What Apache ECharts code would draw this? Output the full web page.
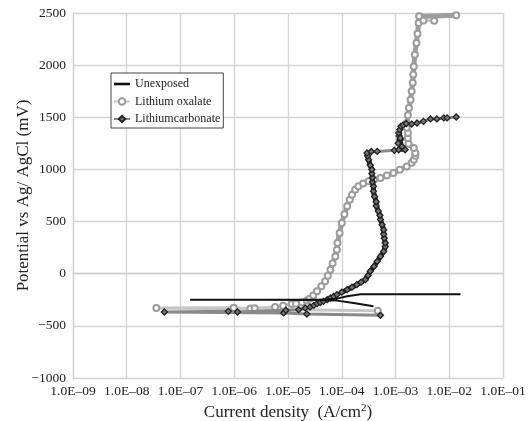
<!DOCTYPE html>
<html>
<head>
<meta charset="utf-8">
<script src="https://cdn.jsdelivr.net/npm/echarts@6/dist/echarts.min.js"></script>
<style>
html,body{margin:0;padding:0;background:#fff;}
#chart{width:529px;height:421px;}
</style>
</head>
<body>
<div id="chart"></div>
<script>
// Current density (A/cm2), potential (mV)
const unexposed = [
  [3.89e-4,-313],[1.66e-4,-280],[8.13e-5,-258],[3.98e-5,-251],[3.16e-6,-250],[1.51e-7,-250],
  [3.16e-6,-249],[3.98e-5,-249],[8.13e-5,-239],[1.26e-4,-217],[2.24e-4,-196],[1.0e-3,-196],
  [3.16e-3,-197],[1.62e-2,-198]
];
const lithiumOxalate = [
  [4.68e-4,-354],[3.55e-8,-328],[9.77e-7,-326],[2.0e-6,-333],[2.40e-6,-332],[5.75e-6,-319],
  [8.13e-6,-306],[1.17e-5,-290],[1.41e-5,-287],[1.82e-5,-275],[2.24e-5,-258],
  [2.51e-5,-240],[2.95e-5,-210],[3.47e-5,-169],[4.17e-5,-120],[4.90e-5,-73],[5.50e-5,-20],
  [6.17e-5,39],[6.76e-5,100],[7.59e-5,166],[8.13e-5,230],[8.32e-5,295],[9.12e-5,390],
  [1.0e-4,487],[1.12e-4,570],[1.26e-4,646],[1.41e-4,710],[1.55e-4,758],[1.78e-4,805],
  [2.04e-4,838],[2.51e-4,865],[3.16e-4,886],[3.98e-4,903],[5.25e-4,918],[6.92e-4,942],
  [9.12e-4,966],[1.20e-3,998],[1.62e-3,1029],[2.0e-3,1065],[2.19e-3,1093],[2.34e-3,1130],
  [2.34e-3,1158],[2.19e-3,1206],[1.74e-3,1246],[1.70e-3,1300],[1.70e-3,1349],[1.62e-3,1400],
  [1.62e-3,1445],[1.70e-3,1520],[1.78e-3,1590],[1.91e-3,1669],[2.0e-3,1750],[2.09e-3,1830],
  [2.14e-3,1910],[2.19e-3,1988],[2.29e-3,2100],[2.45e-3,2212],[2.57e-3,2300],[2.69e-3,2404],
  [2.82e-3,2467],[1.35e-2,2478],[2.75e-3,2470],[3.31e-3,2429],[5.25e-3,2426]
];
const lithiumCarbonate = [
  [5.25e-4,-399],[2.24e-5,-386],[8.32e-6,-376],[5.01e-8,-367],[7.76e-7,-361],[1.15e-6,-367],
  [9.12e-6,-351],[1.58e-5,-345],
  [2.09e-5,-328],[2.57e-5,-319],[3.02e-5,-303],[3.47e-5,-287],[3.98e-5,-276],[4.57e-5,-265],
  [5.37e-5,-249],[6.17e-5,-233],[7.08e-5,-217],[8.13e-5,-201],[1.0e-4,-177],[1.26e-4,-153],
  [1.55e-4,-129],[1.91e-4,-105],[2.29e-4,-81],[2.75e-4,-57],[3.09e-4,-17],[3.39e-4,23],
  [3.98e-4,70],[4.57e-4,118],[5.25e-4,166],[6.03e-4,214],[6.46e-4,260],[6.46e-4,295],
  [6.17e-4,340],[6.03e-4,380],[6.03e-4,422],[5.62e-4,470],[5.25e-4,520],[5.13e-4,560],
  [4.79e-4,600],[4.37e-4,650],[4.37e-4,690],[4.07e-4,740],[3.89e-4,790],[3.89e-4,838],
  [3.72e-4,880],[3.72e-4,920],[3.63e-4,960],[3.63e-4,1000],[3.39e-4,1040],[3.16e-4,1093],
  [3.02e-4,1130],[2.95e-4,1158],[3.55e-4,1172],[4.57e-4,1173],[9.55e-4,1183],[1.15e-3,1189],
  [1.51e-3,1189],[1.32e-3,1220],[1.23e-3,1285],[1.12e-3,1250],[1.17e-3,1320],[1.15e-3,1349],
  [1.23e-3,1300],[1.20e-3,1381],[1.26e-3,1413],[1.38e-3,1425],[1.58e-3,1440],[2.0e-3,1435],
  [2.51e-3,1445],[3.31e-3,1461],[4.47e-3,1484],[5.89e-3,1484],[7.94e-3,1494],[9.12e-3,1494],
  [1.35e-2,1503]
];
const xTickLabels = ['1.0E\u201309','1.0E\u201308','1.0E\u201307','1.0E\u201306','1.0E\u201305',
  '1.0E\u201304','1.0E\u201303','1.0E\u201302','1.0E\u201301'];
const seriesNames = ['Unexposed','Lithium oxalate','Lithiumcarbonate'];

const FONT = 'Liberation Serif';
const chart = echarts.init(document.getElementById('chart'), null, {renderer:'canvas'});
chart.setOption({
  animation:false,
  backgroundColor:'#fff',
  grid:{left:73,right:26,top:13,bottom:43,containLabel:false,outerBoundsMode:'none'},
  legend:{
    orient:'vertical',left:111,top:73,
    backgroundColor:'#fff',borderColor:'#444',borderWidth:1,
    padding:[5,3,3,2],itemGap:5.5,itemWidth:16,itemHeight:8,
    textStyle:{fontFamily:FONT,fontSize:12,color:'#222'},
    data:[
      {name:seriesNames[0],icon:'path://M0,0L16,0L16,2.6L0,2.6Z'},
      {name:seriesNames[1]},
      {name:seriesNames[2]}
    ]
  },
  xAxis:{
    type:'log',logBase:10,min:1e-9,max:1e-1,interval:1,
    name:'{a|Current density  (A/cm}{s|2}{a|)}',nameLocation:'middle',nameGap:24,
    nameTextStyle:{fontFamily:FONT,color:'#222',
      rich:{a:{fontFamily:FONT,fontSize:17,color:'#222'},s:{fontFamily:FONT,fontSize:11,color:'#222',verticalAlign:'top',padding:[0,0,8,0]}}},
    axisLine:{lineStyle:{color:'#cfcfcf',width:1.3}},
    axisTick:{show:false},
    splitLine:{show:true,lineStyle:{color:'#d4d4d4',width:1.3}},
    minorTick:{show:false},
    axisLabel:{fontFamily:FONT,fontSize:13.5,color:'#222',margin:6,
      formatter:function(v){const e=Math.round(Math.log10(v));return xTickLabels[e+9];}}
  },
  yAxis:{
    type:'value',min:-1000,max:2500,interval:500,
    name:'Potential vs Ag/ AgCl (mV)',nameLocation:'middle',nameGap:41,nameRotate:90,
    nameMoveOverlap:false,
    nameTextStyle:{fontFamily:FONT,fontSize:17,color:'#222'},
    axisLine:{show:true,lineStyle:{color:'#cfcfcf',width:1.3}},
    axisTick:{show:false},
    splitLine:{show:true,lineStyle:{color:'#d4d4d4',width:1.3}},
    axisLabel:{fontFamily:FONT,fontSize:13.5,color:'#222',margin:7,
      formatter:function(v){return v<0?'\u2212'+Math.abs(v):String(v);}}
  },
  series:[
    {name:seriesNames[0],type:'line',data:unexposed,showSymbol:false,symbol:'none',z:5,
      lineStyle:{color:'#111',width:2},itemStyle:{color:'#111'}},
    {name:seriesNames[1],type:'line',data:lithiumOxalate,symbol:'emptyCircle',symbolSize:6,z:2,
      lineStyle:{color:'#c6c6c6',width:3},
      itemStyle:{color:'#9c9c9c',borderColor:'#9c9c9c',borderWidth:1.2}},
    {name:seriesNames[1],type:'line',data:lithiumOxalate.slice(10,61),symbol:'none',z:2,silent:true,
      lineStyle:{color:'#9e9e9e',width:5},itemStyle:{color:'#9c9c9c'}},
    {name:seriesNames[2],type:'line',data:lithiumCarbonate,symbol:'diamond',symbolSize:6,z:3,
      lineStyle:{color:'#8a8a8a',width:3},
      itemStyle:{color:'#777',borderColor:'#222',borderWidth:1.3}},
    {name:seriesNames[2],type:'line',data:lithiumCarbonate.slice(18,52),symbol:'none',z:3,silent:true,
      lineStyle:{color:'#1c1c1c',width:5},itemStyle:{color:'#777'}},
    {name:seriesNames[2],type:'line',data:lithiumCarbonate.slice(55,66),symbol:'none',z:3,silent:true,
      lineStyle:{color:'#1c1c1c',width:4},itemStyle:{color:'#777'}}
  ]
});
</script>
</body>
</html>
